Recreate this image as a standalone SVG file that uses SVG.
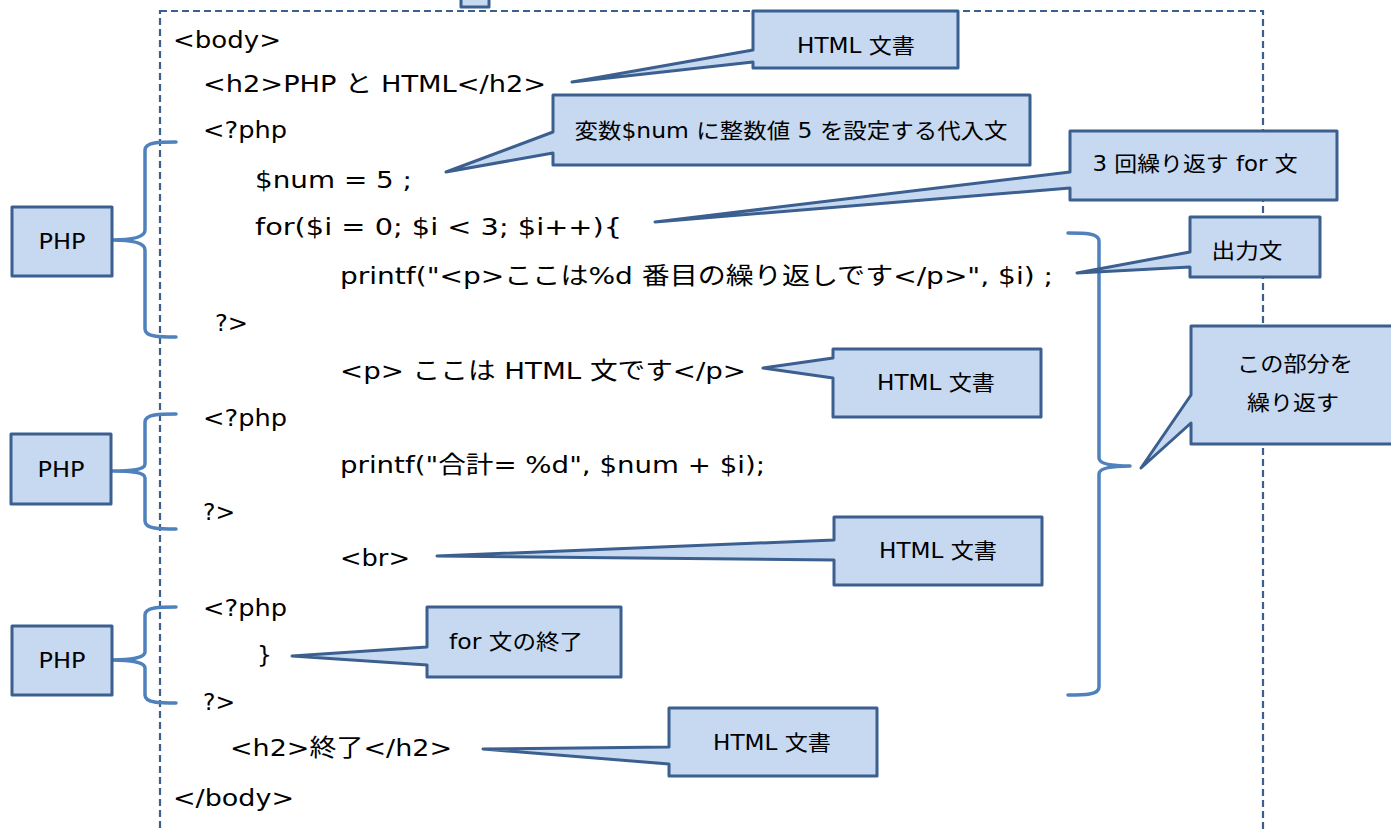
<svg xmlns="http://www.w3.org/2000/svg" width="1391" height="829" viewBox="0 0 1391 829">
<style>
.code{font-family:"DejaVu Sans","Noto Sans CJK JP",sans-serif;font-size:23.5px;fill:#000}
.lbl{font-family:"DejaVu Sans","Noto Sans CJK JP",sans-serif;font-size:21px;fill:#000;text-anchor:middle}
.call{fill:#c6d9f1;stroke:#3b5f8f;stroke-width:3;stroke-linejoin:round}
.brace{fill:none;stroke:#4f81bd;stroke-width:3.5;stroke-linecap:round;stroke-linejoin:round}
.frame{fill:none;stroke:#3b5f8f;stroke-width:2.2;stroke-dasharray:7 4}
</style>
<rect width="1391" height="829" fill="#fff"/>
<rect class="frame" x="160" y="11" width="1103" height="840"/>
<rect class="call" x="461" y="-6" width="28" height="13"/>
<g id="code">
<text class="code" x="173" y="48" textLength="108" lengthAdjust="spacingAndGlyphs">&lt;body&gt;</text>
<text class="code" x="203" y="92" textLength="343" lengthAdjust="spacingAndGlyphs">&lt;h2&gt;PHP と HTML&lt;/h2&gt;</text>
<text class="code" x="203" y="138" textLength="84" lengthAdjust="spacingAndGlyphs">&lt;?php</text>
<text class="code" x="255" y="188" textLength="157" lengthAdjust="spacingAndGlyphs">$num = 5 ;</text>
<text class="code" x="255" y="235" textLength="367" lengthAdjust="spacingAndGlyphs">for($i = 0; $i &lt; 3; $i++){</text>
<text class="code" x="340" y="284" textLength="713" lengthAdjust="spacingAndGlyphs">printf("&lt;p&gt;ここは%d 番目の繰り返しです&lt;/p&gt;", $i) ;</text>
<text class="code" x="215" y="331" textLength="33" lengthAdjust="spacingAndGlyphs">?&gt;</text>
<text class="code" x="340" y="379" textLength="406" lengthAdjust="spacingAndGlyphs">&lt;p&gt;  ここは HTML 文です&lt;/p&gt;</text>
<text class="code" x="203" y="426" textLength="84" lengthAdjust="spacingAndGlyphs">&lt;?php</text>
<text class="code" x="340" y="473" textLength="425" lengthAdjust="spacingAndGlyphs">printf("合計= %d", $num + $i);</text>
<text class="code" x="203" y="520" textLength="32" lengthAdjust="spacingAndGlyphs">?&gt;</text>
<text class="code" x="340" y="566" textLength="70" lengthAdjust="spacingAndGlyphs">&lt;br&gt;</text>
<text class="code" x="203" y="616" textLength="84" lengthAdjust="spacingAndGlyphs">&lt;?php</text>
<text class="code" x="257" y="663">}</text>
<text class="code" x="203" y="710" textLength="32" lengthAdjust="spacingAndGlyphs">?&gt;</text>
<text class="code" x="230" y="756" textLength="222" lengthAdjust="spacingAndGlyphs">&lt;h2&gt;終了&lt;/h2&gt;</text>
<text class="code" x="173" y="806" textLength="121" lengthAdjust="spacingAndGlyphs">&lt;/body&gt;</text>
</g>
<g id="connectors">
<path class="brace" d="M176,142 C160,142 145,142 145,150 V230 C145,238 130,240 112,240 C130,240 145,242 145,250 V329 C145,337 160,337 176,337"/>
<path class="brace" d="M176,414 C160,414 145,414 145,422 V464 C145,470 130,471 112,471 C130,471 145,472 145,478 V521 C145,529 160,529 176,529"/>
<path class="brace" d="M176,607 C160,607 145,607 145,615 V652 C145,658 130,660 112,660 C130,660 145,662 145,668 V695 C145,703 160,703 176,703"/>
<path class="brace" d="M1068,233 C1084,233 1099,233 1099,241 V458 C1099,464 1112,466 1130,466 C1112,466 1099,468 1099,474 V687 C1099,695 1084,695 1068,695"/>
</g>
<g id="php1"><rect class="call" x="12" y="207" width="100" height="69"/><text class="lbl" x="62" y="249" textLength="47" lengthAdjust="spacingAndGlyphs">PHP</text></g>
<g id="php2"><rect class="call" x="11" y="434" width="100" height="70"/><text class="lbl" x="61" y="477" textLength="47" lengthAdjust="spacingAndGlyphs">PHP</text></g>
<g id="php3"><rect class="call" x="12" y="626" width="100" height="69"/><text class="lbl" x="62" y="668" textLength="47" lengthAdjust="spacingAndGlyphs">PHP</text></g>
<g id="c-html1"><path class="call" d="M753,11 H958 V68 H753 V62 L572,82 L753,50 Z"/><text class="lbl" x="856" y="53" textLength="118" lengthAdjust="spacingAndGlyphs">HTML 文書</text></g>
<g id="c-num"><path class="call" d="M553,95 H1030 V165 H553 V153 L446,172 L553,132 Z"/><text class="lbl" x="791" y="138" textLength="433" lengthAdjust="spacingAndGlyphs">変数$num に整数値 5 を設定する代入文</text></g>
<g id="c-for"><path class="call" d="M1070,131 H1337 V200 H1070 V188 L655,222 L1070,172 Z"/><text class="lbl" x="1195" y="171" textLength="205" lengthAdjust="spacingAndGlyphs">3 回繰り返す for 文</text></g>
<g id="c-out"><path class="call" d="M1190,217 H1320 V277 H1190 V267 L1077,273 L1190,252 Z"/><text class="lbl" x="1247" y="258" textLength="71" lengthAdjust="spacingAndGlyphs">出力文</text></g>
<g id="c-repeat"><path class="call" d="M1191,326 H1402 V444 H1191 V423 L1141,468 L1191,395 Z"/><text class="lbl" x="1295" y="371" textLength="116" lengthAdjust="spacingAndGlyphs">この部分を</text><text class="lbl" x="1293" y="410" textLength="92" lengthAdjust="spacingAndGlyphs">繰り返す</text></g>
<g id="c-html2"><path class="call" d="M833,349 H1041 V417 H833 V378 L763,368 L833,358 Z"/><text class="lbl" x="936" y="390" textLength="118" lengthAdjust="spacingAndGlyphs">HTML 文書</text></g>
<g id="c-html3"><path class="call" d="M834,517 H1042 V585 H834 V560 L437,556 L834,540 Z"/><text class="lbl" x="938" y="558" textLength="118" lengthAdjust="spacingAndGlyphs">HTML 文書</text></g>
<g id="c-forend"><path class="call" d="M427,607 H621 V677 H427 V665 L292,656 L427,647 Z"/><text class="lbl" x="516" y="649" textLength="134" lengthAdjust="spacingAndGlyphs">for 文の終了</text></g>
<g id="c-html4"><path class="call" d="M669,708 H877 V776 H669 V764 L483,749 L669,747 Z"/><text class="lbl" x="772" y="750" textLength="118" lengthAdjust="spacingAndGlyphs">HTML 文書</text></g>
</svg>
